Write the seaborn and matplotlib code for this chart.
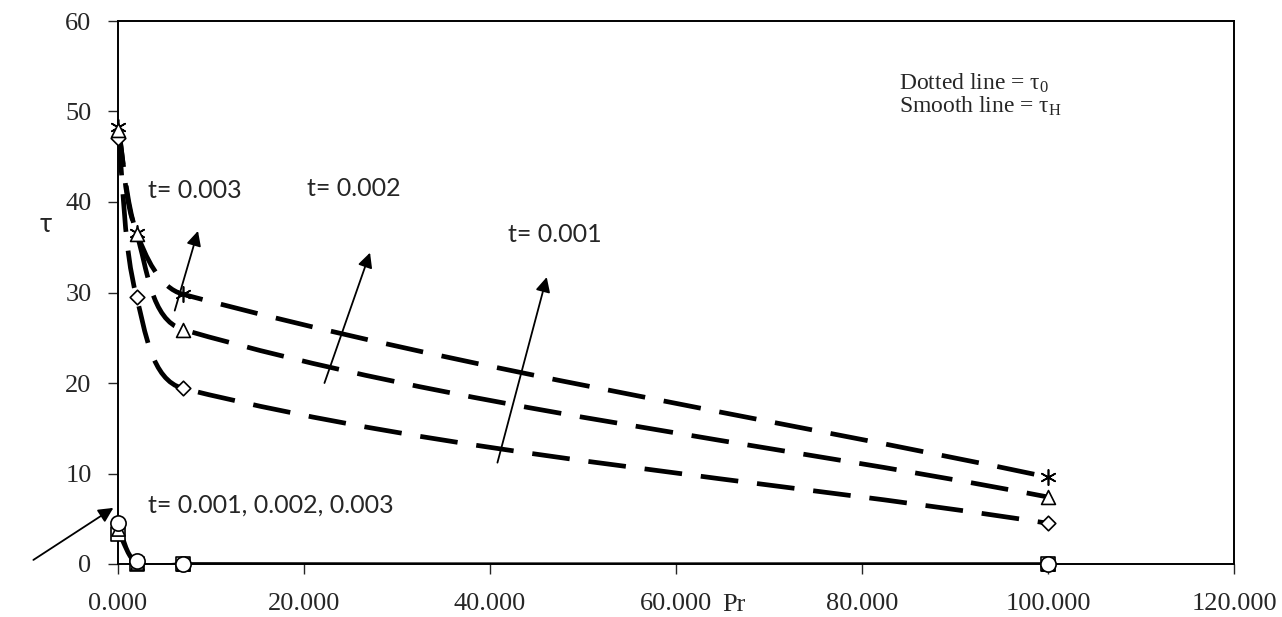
import numpy as np
import matplotlib
matplotlib.use('Agg')
import matplotlib.pyplot as plt
from matplotlib.path import Path
from matplotlib.patches import PathPatch
import seaborn as sns

# Prandtl numbers
pr = [0.025, 2.0, 7.0, 100.0]

# tau_0 (dashed lines)
tau0_t001 = [47.1, 29.5, 19.4, 4.5]
tau0_t002 = [48.0, 36.5, 25.9, 7.4]
tau0_t003 = [48.3, 36.6, 29.8, 9.6]

# tau_H (solid lines)
tauH_t001 = [3.3, 0.05, 0.0, 0.0]
tauH_t002 = [3.9, 0.15, 0.01, 0.0]
tauH_t003 = [4.5, 0.3, 0.02, 0.0]

xticks = [0, 20, 40, 60, 80, 100, 120]
yticks = [0, 10, 20, 30, 40, 50, 60]

sns.set_style('ticks')
plt.rcParams['font.family'] = ['Liberation Serif', 'DejaVu Serif']
plt.rcParams['mathtext.fontset'] = 'custom'
plt.rcParams['mathtext.rm'] = 'Liberation Serif'
plt.rcParams['mathtext.it'] = 'Liberation Serif:italic'

fig = plt.figure(figsize=(12.82, 6.17), dpi=100)
ax = fig.add_axes([118 / 1282, 53 / 617, 1116 / 1282, 543 / 617])
ax.set_xlim(0, 120)
ax.set_ylim(0, 60)


def smooth_path(ax, xs, ys):
    # excel-like smoothed line, built in screen space
    pts = ax.transData.transform(np.column_stack([xs, ys]))
    n = len(pts)
    d = np.hypot(*np.diff(pts, axis=0).T)
    verts = [pts[0]]
    codes = [Path.MOVETO]
    for i in range(n - 1):
        p0, p1 = pts[i], pts[i + 1]
        if i == 0:
            c1 = p0 + (p1 - p0) / 3
        else:
            c1 = p0 + (p1 - pts[i - 1]) * d[i] / (d[i - 1] + d[i]) / 3
        if i == n - 2:
            c2 = p1 - (p1 - p0) / 3
        else:
            c2 = p1 - (pts[i + 2] - p0) * d[i] / (d[i] + d[i + 1]) / 3
        verts += [c1, c2, p1]
        codes += [Path.CURVE4] * 3
    verts = ax.transData.inverted().transform(np.array(verts))
    return Path(verts, codes)


for vals in [tau0_t001, tau0_t002, tau0_t003]:
    ax.add_patch(PathPatch(smooth_path(ax, pr, vals), fill=False, edgecolor='black',
                           lw=3.4, linestyle=(0, (8, 4)), capstyle='butt', zorder=3))
for vals in [tauH_t001, tauH_t002, tauH_t003]:
    ax.add_patch(PathPatch(smooth_path(ax, pr, vals), fill=False, edgecolor='black',
                           lw=2.0, zorder=3))

sns.scatterplot(x=pr, y=tau0_t003, marker=(6, 2, 0), s=120, color='black',
                linewidth=1.2, zorder=5, clip_on=False, ax=ax)
sns.scatterplot(x=pr, y=tau0_t001, marker='D', s=55, color='white', edgecolor='black',
                linewidth=1.2, zorder=5, clip_on=False, ax=ax)
sns.scatterplot(x=pr, y=tau0_t002, marker='^', s=100, color='white', edgecolor='black',
                linewidth=1.2, zorder=5, clip_on=False, ax=ax)
sns.scatterplot(x=pr, y=tauH_t001, marker='s', s=90, color='white', edgecolor='black',
                linewidth=1.2, zorder=5, clip_on=False, ax=ax)
sns.scatterplot(x=pr, y=tauH_t002, marker='^', s=90, color='white', edgecolor='black',
                linewidth=1.2, zorder=5, clip_on=False, ax=ax)
sns.scatterplot(x=pr, y=tauH_t003, marker='o', s=120, color='white', edgecolor='black',
                linewidth=1.2, zorder=6, clip_on=False, ax=ax)

ax.set_xticks(xticks)
ax.set_xticklabels([f'{v:.3f}' for v in xticks])
ax.set_yticks(yticks)
ax.tick_params(direction='out', length=7, width=1, labelsize=19)
ax.tick_params(axis='x', pad=14)
ax.tick_params(axis='y', pad=12)
for sp in ax.spines.values():
    sp.set_visible(True)
    sp.set_linewidth(1.4)
    sp.set_color('black')

sans = ['Lato', 'DejaVu Sans']
ax.text(3.2, 41.3, 't= 0.003', fontsize=18, family=sans, va='center')
ax.text(20.3, 41.5, 't= 0.002', fontsize=18, family=sans, va='center')
ax.text(41.9, 36.4, 't= 0.001', fontsize=18, family=sans, va='center')
ax.text(3.2, 6.5, 't= 0.001, 0.002, 0.003', fontsize=18, family=sans, va='center')
ax.text(84.0, 53.1, r'Dotted line = τ$_\mathrm{0}$', fontsize=17, va='center')
ax.text(84.0, 50.6, r'Smooth line = τ$_\mathrm{H}$', fontsize=17, va='center')

arrow = dict(arrowstyle='-|>', lw=1.3, color='black', mutation_scale=22, shrinkA=0, shrinkB=0)
ax.annotate('', xy=(8.6, 36.8), xytext=(6.1, 28.0), arrowprops=arrow)
ax.annotate('', xy=(27.1, 34.4), xytext=(22.2, 20.0), arrowprops=arrow)
ax.annotate('', xy=(46.1, 31.7), xytext=(40.8, 11.2), arrowprops=arrow)
ax.annotate('', xy=(-0.5, 6.2), xytext=(-9.1, 0.45), arrowprops=arrow, annotation_clip=False)

fig.text(46 / 1282, 1 - 224 / 617, 'τ', fontsize=19, family=sans, ha='center', va='center')
fig.text(722 / 1282, 1 - 605 / 617, 'Pr', fontsize=19, ha='left', va='center')

fig.savefig('out.png', dpi=100)
